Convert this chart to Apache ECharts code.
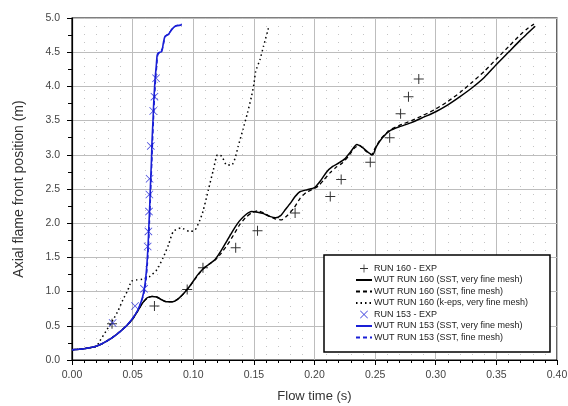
<!DOCTYPE html>
<html>
<head>
<meta charset="utf-8">
<script src="https://cdn.jsdelivr.net/npm/echarts@6/dist/echarts.min.js"></script>
<style>
  html, body { margin: 0; padding: 0; background: #fff; }
  #chart { width: 568px; height: 406px; }
</style>
</head>
<body>
<div id="chart"></div>
<script>
// flow time (s) / axial flame front position (m)
var run160Exp = [
  [0.033, 0.53], [0.068, 0.79], [0.095, 1.03], [0.108, 1.35], [0.135, 1.64],
  [0.153, 1.89], [0.184, 2.15], [0.213, 2.39], [0.222, 2.64], [0.246, 2.89],
  [0.262, 3.25], [0.271, 3.60], [0.2775, 3.85], [0.286, 4.11]
];
var run160SstVeryFine = [
  [0, 0.15], [0.01, 0.165], [0.02, 0.2], [0.025, 0.24], [0.03, 0.29], [0.035, 0.35],
  [0.04, 0.42], [0.045, 0.5], [0.05, 0.6], [0.055, 0.74], [0.058, 0.83], [0.062, 0.91],
  [0.066, 0.93], [0.07, 0.92], [0.074, 0.88], [0.078, 0.85], [0.083, 0.85], [0.088, 0.9],
  [0.093, 0.99], [0.098, 1.1], [0.103, 1.23], [0.108, 1.33], [0.113, 1.4], [0.118, 1.47],
  [0.123, 1.6], [0.128, 1.75], [0.133, 1.9], [0.138, 2.03], [0.143, 2.12], [0.148, 2.17],
  [0.153, 2.16], [0.158, 2.14], [0.163, 2.1], [0.168, 2.08], [0.172, 2.11], [0.176, 2.2],
  [0.18, 2.29], [0.184, 2.39], [0.188, 2.46], [0.194, 2.49], [0.2, 2.52], [0.205, 2.62],
  [0.21, 2.75], [0.215, 2.83], [0.22, 2.88], [0.225, 2.94], [0.23, 3.05], [0.235, 3.15],
  [0.24, 3.1], [0.244, 3.04], [0.248, 3.0], [0.251, 3.12], [0.256, 3.25], [0.262, 3.35],
  [0.27, 3.41], [0.28, 3.47], [0.29, 3.55], [0.3, 3.63], [0.31, 3.73], [0.32, 3.85],
  [0.33, 3.98], [0.34, 4.13], [0.35, 4.32], [0.36, 4.5], [0.37, 4.68], [0.376, 4.78],
  [0.382, 4.88]
];
var run160SstFine = [
  [0, 0.15], [0.01, 0.165], [0.02, 0.2], [0.025, 0.24], [0.03, 0.29], [0.035, 0.35],
  [0.04, 0.42], [0.045, 0.5], [0.05, 0.6], [0.055, 0.74], [0.058, 0.83], [0.062, 0.9],
  [0.066, 0.93], [0.07, 0.92], [0.074, 0.88], [0.078, 0.85], [0.083, 0.85], [0.088, 0.9],
  [0.093, 0.99], [0.098, 1.1], [0.103, 1.22], [0.108, 1.33], [0.113, 1.4], [0.118, 1.46],
  [0.123, 1.56], [0.128, 1.68], [0.133, 1.82], [0.138, 1.97], [0.143, 2.08], [0.148, 2.15],
  [0.153, 2.18], [0.158, 2.15], [0.163, 2.1], [0.168, 2.06], [0.173, 2.05], [0.178, 2.12],
  [0.183, 2.22], [0.188, 2.36], [0.193, 2.45], [0.198, 2.49], [0.203, 2.54], [0.208, 2.64],
  [0.213, 2.74], [0.218, 2.82], [0.223, 2.88], [0.228, 2.98], [0.233, 3.1], [0.237, 3.14],
  [0.242, 3.06], [0.247, 3.0], [0.25, 3.1], [0.255, 3.24], [0.262, 3.36], [0.27, 3.43],
  [0.28, 3.5], [0.29, 3.58], [0.3, 3.67], [0.31, 3.78], [0.32, 3.91], [0.33, 4.06],
  [0.34, 4.22], [0.35, 4.4], [0.36, 4.58], [0.37, 4.76], [0.376, 4.85], [0.381, 4.91]
];
var run160KepsVeryFine = [
  [0, 0.15], [0.01, 0.165], [0.02, 0.2], [0.023, 0.28], [0.028, 0.42], [0.034, 0.59],
  [0.038, 0.72], [0.042, 0.88], [0.046, 1.02], [0.049, 1.15], [0.053, 1.17], [0.058, 1.18],
  [0.064, 1.22], [0.07, 1.32], [0.075, 1.49], [0.0795, 1.68], [0.0836, 1.88], [0.09, 1.93],
  [0.097, 1.88], [0.1015, 1.9], [0.1056, 2.05], [0.108, 2.17], [0.1125, 2.49], [0.1166, 2.78],
  [0.12, 3.0], [0.1235, 2.98], [0.1276, 2.85], [0.1317, 2.85], [0.1345, 2.95], [0.137, 3.12],
  [0.141, 3.37], [0.1447, 3.61], [0.148, 3.85], [0.15, 4.03], [0.1515, 4.22], [0.155, 4.39],
  [0.158, 4.59], [0.162, 4.85]
];
var run153Exp = [
  [0.0335, 0.54], [0.052, 0.79], [0.0594, 1.04], [0.0624, 1.66], [0.063, 1.88],
  [0.0635, 2.17], [0.0638, 2.42], [0.064, 2.65], [0.065, 3.13], [0.067, 3.64],
  [0.068, 3.85], [0.0693, 4.12]
];
var run153SstVeryFine = [
  [0, 0.15], [0.01, 0.165], [0.02, 0.2], [0.025, 0.24], [0.03, 0.29], [0.035, 0.35],
  [0.04, 0.42], [0.045, 0.5], [0.05, 0.61], [0.054, 0.72], [0.057, 0.85], [0.059, 0.98],
  [0.0605, 1.15], [0.0618, 1.4], [0.0628, 1.7], [0.0635, 2.0], [0.0642, 2.3], [0.0648, 2.6],
  [0.0655, 2.9], [0.066, 3.2], [0.0668, 3.5], [0.0675, 3.8], [0.0685, 4.1], [0.0695, 4.3],
  [0.0702, 4.45], [0.0712, 4.49], [0.074, 4.51], [0.0754, 4.64], [0.0767, 4.73],
  [0.0795, 4.76], [0.0822, 4.83], [0.085, 4.88], [0.0905, 4.9]
];
var run153SstFine = [
  [0, 0.15], [0.01, 0.165], [0.02, 0.2], [0.025, 0.24], [0.03, 0.29], [0.035, 0.35],
  [0.04, 0.42], [0.045, 0.5], [0.05, 0.61], [0.054, 0.72], [0.057, 0.84], [0.0594, 0.98],
  [0.061, 1.15], [0.0622, 1.4], [0.0632, 1.7], [0.0639, 2.0], [0.0646, 2.3], [0.0652, 2.6],
  [0.0659, 2.9], [0.0665, 3.2], [0.0672, 3.5], [0.068, 3.8], [0.069, 4.1], [0.07, 4.32],
  [0.0708, 4.46], [0.0725, 4.5], [0.0745, 4.55], [0.076, 4.66], [0.0775, 4.74],
  [0.08, 4.78], [0.083, 4.85], [0.0865, 4.89], [0.0905, 4.91]
];

var xTicks = { min: 0, max: 0.4, step: 0.05 };
var yTicks = { min: 0, max: 5, step: 0.5 };

var black = '#000000';
var blue = '#1a1fd6';
var plusPath = 'path://M4.5,0H5.5V4.5H10V5.5H5.5V10H4.5V5.5H0V4.5H4.5Z';
var crossPath = 'path://M0,0.7L0.7,0L5,4.3L9.3,0L10,0.7L5.7,5L10,9.3L9.3,10L5,5.7L0.7,10L0,9.3L4.3,5Z';
var font = 'Liberation Sans, Arial, sans-serif';
var noSymbol = { color: 'rgba(0,0,0,0)', borderColor: 'rgba(0,0,0,0)', borderWidth: 0 };

var chart = echarts.init(document.getElementById('chart'), null, { renderer: 'canvas' });

function lineSeries(name, data, color, type, width) {
  return {
    name: name, type: 'line', data: data, symbol: 'none', smooth: 0.2,
    lineStyle: { color: color, width: width, type: type },
    itemStyle: { color: color }, z: 2
  };
}

chart.setOption({
  animation: false,
  grid: {
    left: 72, right: 11, top: 18, bottom: 46, show: true, outerBoundsMode: 'none',
    borderColor: '#000', borderWidth: 1.2, backgroundColor: 'transparent'
  },
  xAxis: {
    type: 'value', min: xTicks.min, max: xTicks.max, interval: xTicks.step,
    name: 'Flow time (s)', nameLocation: 'middle', nameGap: 30,
    nameTextStyle: { fontFamily: font, fontSize: 13, color: '#333' },
    axisLine: { lineStyle: { color: '#000', width: 1.2 } },
    axisTick: { length: 5, lineStyle: { color: '#000' } },
    minorTick: { show: true, splitNumber: 5, length: 3, lineStyle: { color: '#000' } },
    axisLabel: { fontFamily: font, fontSize: 10.5, color: '#444', margin: 10,
      formatter: function (v) { return v.toFixed(2); } },
    splitLine: { lineStyle: { color: '#bdbdbd', width: 1 } },
    minorSplitLine: { show: true, lineStyle: { color: '#c4c4c4', width: 1, type: [1, 7] } }
  },
  yAxis: {
    type: 'value', min: yTicks.min, max: yTicks.max, interval: yTicks.step,
    name: 'Axial flame front position (m)', nameLocation: 'middle', nameGap: 46,
    nameTextStyle: { fontFamily: font, fontSize: 14, color: '#333' },
    axisLine: { lineStyle: { color: '#000', width: 1.2 } },
    axisTick: { length: 5, lineStyle: { color: '#000' } },
    minorTick: { show: true, splitNumber: 2, length: 4, lineStyle: { color: '#000' } },
    axisLabel: { fontFamily: font, fontSize: 10.5, color: '#444', margin: 12,
      formatter: function (v) { return v.toFixed(1); } },
    splitLine: { lineStyle: { color: '#bdbdbd', width: 1 } }
  },
  graphic: [{
    type: 'rect', z: 3,
    shape: { x: 324, y: 255, width: 226, height: 97 },
    style: { fill: '#fff', stroke: '#000', lineWidth: 1.5 }
  }],
  legend: {
    left: 350, top: 259, orient: 'vertical', z: 5,
    itemWidth: 16, itemHeight: 8, itemGap: 2.5,
    textStyle: { fontFamily: font, fontSize: 9, color: '#222', padding: [0, 0, 0, -3] },
    data: [
      { name: 'RUN 160 - EXP' },
      { name: 'WUT RUN 160 (SST, very fine mesh)', itemStyle: noSymbol },
      { name: 'WUT RUN 160 (SST, fine mesh)', itemStyle: noSymbol },
      { name: 'WUT RUN 160 (k-eps, very fine mesh)', itemStyle: noSymbol },
      { name: 'RUN 153 - EXP' },
      { name: 'WUT RUN 153 (SST, very fine mesh)', itemStyle: noSymbol },
      { name: 'WUT RUN 153 (SST, fine mesh)', itemStyle: noSymbol }
    ]
  },
  series: [
    lineSeries('WUT RUN 160 (k-eps, very fine mesh)', run160KepsVeryFine, black, [1.5, 3], 1.5),
    lineSeries('WUT RUN 160 (SST, fine mesh)', run160SstFine, black, [4, 3], 1.3),
    lineSeries('WUT RUN 160 (SST, very fine mesh)', run160SstVeryFine, black, 'solid', 1.5),
    lineSeries('WUT RUN 153 (SST, fine mesh)', run153SstFine, blue, [4, 3], 1.3),
    lineSeries('WUT RUN 153 (SST, very fine mesh)', run153SstVeryFine, blue, 'solid', 1.6),
    {
      name: 'RUN 160 - EXP', type: 'scatter', data: run160Exp,
      symbol: plusPath, symbolSize: 10, itemStyle: { color: '#000' }, z: 4
    },
    {
      name: 'RUN 153 - EXP', type: 'scatter', data: run153Exp,
      symbol: crossPath, symbolSize: 8, itemStyle: { color: blue }, z: 4
    }
  ]
});
</script>
</body>
</html>
